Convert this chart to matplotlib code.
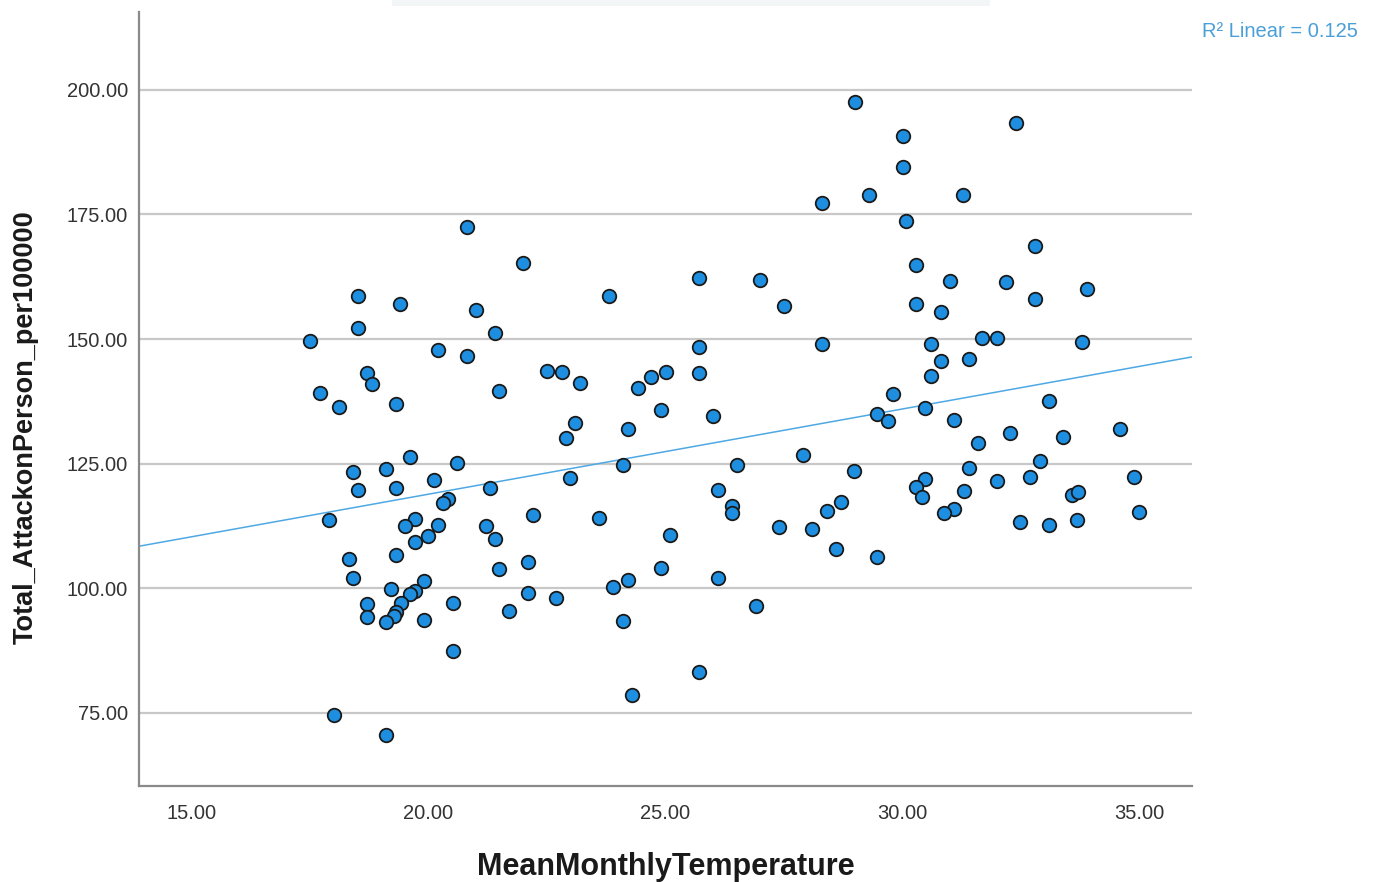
import numpy as np
import matplotlib
matplotlib.use("Agg")
import matplotlib.pyplot as plt
from matplotlib.ticker import FormatStrFormatter
from matplotlib.patches import Rectangle

# values
temperature = [
    20.81, 22.00, 18.51, 19.40, 21.01, 18.51, 21.41, 17.51, 20.21, 20.81,
    22.50, 22.81, 23.20, 18.70, 18.81, 17.72, 18.12, 19.31, 21.50, 23.09,
    22.90, 19.62, 20.61, 18.42, 19.10, 20.11, 22.99, 18.51, 19.31, 21.30,
    20.42, 20.30, 17.91, 22.21, 19.72, 19.51, 20.21, 21.21, 20.00, 21.41,
    19.71, 18.32, 19.31, 22.10, 21.50, 18.41, 19.91, 19.21, 19.72, 19.62,
    22.10, 22.69, 19.42, 18.70, 20.51, 19.32, 19.28, 18.70, 19.10, 19.91,
    21.70, 20.51, 18.00, 19.11, 28.30, 29.29, 25.71, 26.99, 23.81, 27.50,
    25.71, 28.30, 24.69, 25.01, 24.41, 25.71, 24.90, 24.20, 26.01, 29.47,
    24.10, 26.50, 27.90, 28.98, 23.60, 26.10, 26.40, 26.40, 25.09, 27.39,
    28.09, 28.40, 28.70, 28.59, 29.47, 24.90, 24.22, 23.90, 26.10, 26.90,
    24.10, 25.71, 24.30, 29.00, 32.39, 30.00, 30.00, 31.28, 30.08, 32.79,
    30.28, 31.00, 32.19, 33.89, 30.28, 30.80, 32.79, 30.59, 31.68, 31.99,
    33.78, 30.80, 31.40, 30.59, 29.80, 29.70, 30.48, 31.08, 33.08, 34.58,
    32.27, 33.38, 31.59, 32.89, 31.40, 30.48, 30.28, 30.40, 31.99, 32.68,
    34.88, 31.29, 33.57, 33.69, 31.09, 30.88, 32.47, 33.08, 33.68, 34.98,
]
attacks = [
    172.57, 165.35, 158.73, 157.06, 155.86, 152.19, 151.18, 149.64, 147.83, 146.63,
    143.68, 143.48, 141.15, 143.16, 140.95, 139.14, 136.46, 136.94, 139.61, 133.13,
    130.12, 126.42, 125.22, 123.41, 124.02, 121.81, 122.15, 119.74, 120.08, 120.20,
    117.88, 117.19, 113.72, 114.67, 113.92, 112.52, 112.72, 112.52, 110.57, 109.91,
    109.37, 105.90, 106.70, 105.36, 103.83, 102.15, 101.48, 99.88, 99.54, 98.82,
    99.14, 98.13, 97.01, 96.81, 97.13, 95.26, 94.46, 94.32, 93.32, 93.66,
    95.41, 87.50, 74.60, 70.58, 177.27, 178.93, 162.22, 161.88, 158.67, 156.66,
    148.50, 148.98, 142.48, 143.48, 140.15, 143.16, 135.79, 132.04, 134.59, 134.93,
    124.76, 124.76, 126.77, 123.56, 114.07, 119.74, 116.53, 115.19, 110.65, 112.38,
    111.86, 115.47, 117.34, 107.85, 106.24, 104.15, 101.69, 100.34, 102.03, 96.53,
    93.46, 83.29, 78.61, 197.59, 193.32, 190.63, 184.61, 178.99, 173.78, 168.70,
    164.89, 161.74, 161.54, 160.13, 157.06, 155.40, 158.07, 149.04, 150.18, 150.18,
    149.50, 145.69, 146.03, 142.68, 139.00, 133.65, 136.14, 133.79, 137.60, 132.04,
    131.12, 130.32, 129.11, 125.56, 124.10, 121.95, 120.28, 118.40, 121.61, 122.29,
    122.41, 119.60, 118.74, 119.34, 115.93, 115.07, 113.26, 112.72, 113.66, 115.39,
]
x_ticks = [15, 20, 25, 30, 35]
y_ticks = [75, 100, 125, 150, 175, 200]
r2_label = "R\u00b2 Linear = 0.125"

plt.rcParams["font.family"] = ["Liberation Sans", "DejaVu Sans"]

fig = plt.figure(figsize=(13.85, 8.82), dpi=100)
ax = fig.add_axes([0.1004, 0.1088, 0.7602, 0.8776])

# faint strip at top of the original screenshot
fig.patches.append(Rectangle((0.283, 0.993), 0.432, 0.007, transform=fig.transFigure,
                             facecolor="#f2f6f7", edgecolor="none"))

ax.set_xlim(13.9, 36.1)
ax.set_ylim(60.35, 215.6)

for yt in y_ticks:
    ax.axhline(yt, color="#c8c8c8", linewidth=1.6, zorder=1)

# linear fit
slope, intercept = np.polyfit(temperature, attacks, 1)
xs = np.array(ax.get_xlim())
ax.plot(xs, slope * xs + intercept, color="#4ea8e4", linewidth=1.1, zorder=2)

ax.scatter(temperature, attacks, s=95, facecolor="#1e8fe0", edgecolor="#1a1a1a",
           linewidth=1.3, zorder=3)

ax.set_xticks(x_ticks)
ax.set_yticks(y_ticks)
ax.xaxis.set_major_formatter(FormatStrFormatter("%.2f"))
ax.yaxis.set_major_formatter(FormatStrFormatter("%.2f"))
ax.tick_params(axis="both", length=0, labelsize=14.5, labelcolor="#333333")
ax.tick_params(axis="x", pad=13)
ax.tick_params(axis="y", pad=8)

for side in ["top", "right"]:
    ax.spines[side].set_visible(False)
for side in ["left", "bottom"]:
    ax.spines[side].set_color("#8a8a8a")
    ax.spines[side].set_linewidth(1.6)

ax.set_xlabel("MeanMonthlyTemperature", fontsize=22, fontweight="bold",
              color="#1a1a1a", va="center")
ax.set_ylabel("Total_AttackonPerson_per100000", fontsize=19.5, fontweight="bold",
              color="#1a1a1a", va="center", ha="center")
ax.xaxis.set_label_coords(0.5, -0.104)
ax.yaxis.set_label_coords(-0.108, 0.4635)

fig.text(0.9805, 0.9645, r2_label, color="#4a9fd8", fontsize=14.5, ha="right", va="center")

fig.savefig("out.png", dpi=100)
